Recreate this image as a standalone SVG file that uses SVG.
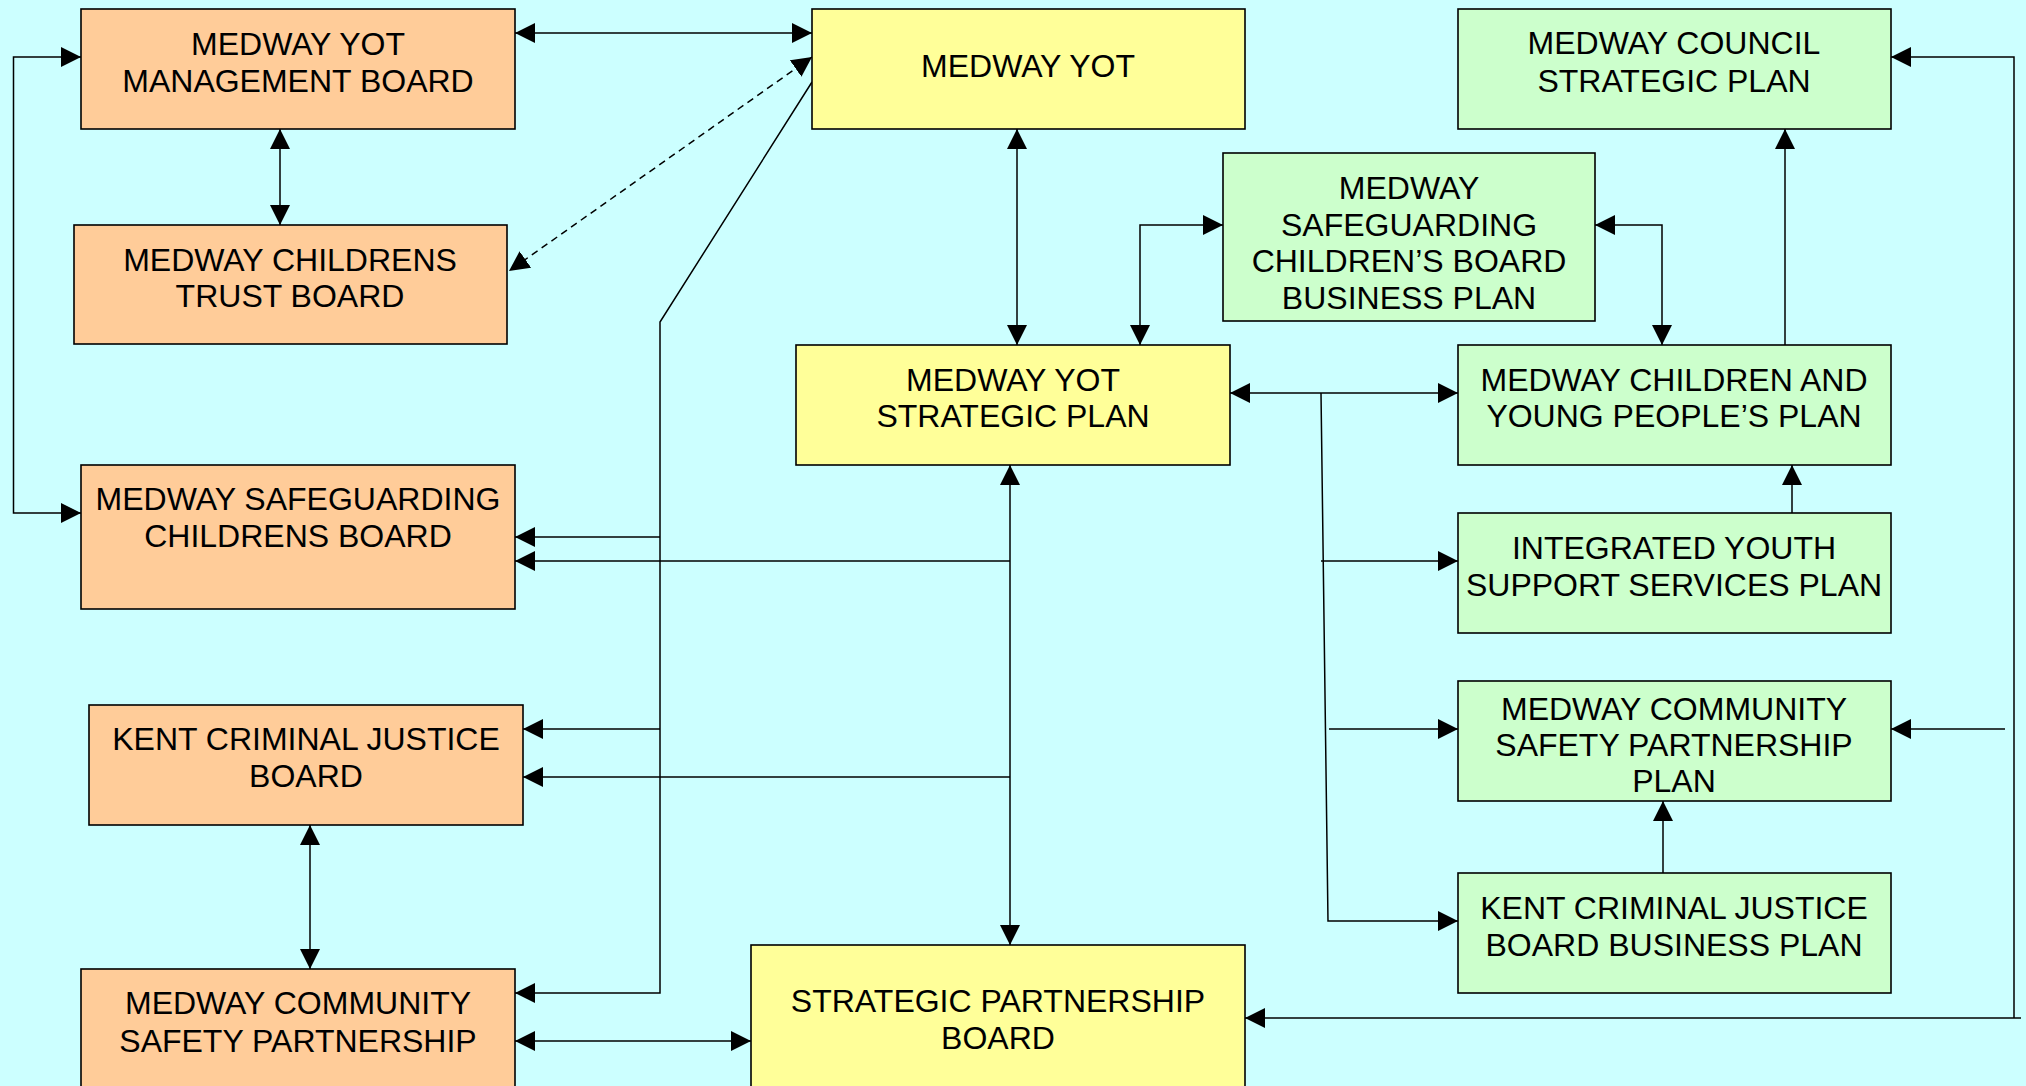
<svg xmlns="http://www.w3.org/2000/svg" width="2026" height="1086" viewBox="0 0 2026 1086">
<style>
.box{stroke:#000;stroke-width:1.6}
.or{fill:#FFCC99}.ye{fill:#FFFF99}.gr{fill:#CCFFCC}
text{font-family:"Liberation Sans",Arial,sans-serif;font-size:32px;fill:#000;text-anchor:middle}
.c{fill:none;stroke:#000;stroke-width:1.5}
.d{stroke-dasharray:7,5}
</style>
<defs>
<marker id="ah" markerUnits="userSpaceOnUse" markerWidth="20" markerHeight="20" refX="20" refY="10" orient="auto-start-reverse" viewBox="0 0 20 20">
<path d="M0,0 L20,10 L0,20 z" fill="#000"/>
</marker>
</defs>
<rect width="2026" height="1086" fill="#CCFFFF"/>
<g id="connectors">
<path class="c" d="M515,33 H812" marker-start="url(#ah)" marker-end="url(#ah)"/>
<path class="c" d="M280,129 V225" marker-start="url(#ah)" marker-end="url(#ah)"/>
<path class="c" d="M81,57 H13.5 V513 H81" marker-start="url(#ah)" marker-end="url(#ah)"/>
<path class="c d" d="M812,57 L509,271" marker-start="url(#ah)" marker-end="url(#ah)"/>
<path class="c" d="M812,82 L660,322 V993 H515" marker-end="url(#ah)"/>
<path class="c" d="M660,537 H515" marker-end="url(#ah)"/>
<path class="c" d="M660,729 H523" marker-end="url(#ah)"/>
<path class="c" d="M1017,129 V345" marker-start="url(#ah)" marker-end="url(#ah)"/>
<path class="c" d="M1223,225 H1140 V345" marker-start="url(#ah)" marker-end="url(#ah)"/>
<path class="c" d="M1595,225 H1662 V345" marker-start="url(#ah)" marker-end="url(#ah)"/>
<path class="c" d="M1785,345 V129" marker-end="url(#ah)"/>
<path class="c" d="M2014,1018 V57 H1891" marker-end="url(#ah)"/>
<path class="c" d="M2021,1018 H1245" marker-end="url(#ah)"/>
<path class="c" d="M2005,729 H1891" marker-end="url(#ah)"/>
<path class="c" d="M1230,393 H1458" marker-start="url(#ah)" marker-end="url(#ah)"/>
<path class="c" d="M1321,393 L1328,921 H1458" marker-end="url(#ah)"/>
<path class="c" d="M1321,561 H1458" marker-end="url(#ah)"/>
<path class="c" d="M1329,729 H1458" marker-end="url(#ah)"/>
<path class="c" d="M1792,513 V465" marker-end="url(#ah)"/>
<path class="c" d="M1663,873 V801" marker-end="url(#ah)"/>
<path class="c" d="M1010,465 V945" marker-start="url(#ah)" marker-end="url(#ah)"/>
<path class="c" d="M1010,561 H515" marker-end="url(#ah)"/>
<path class="c" d="M1010,777 H523" marker-end="url(#ah)"/>
<path class="c" d="M310,825 V969" marker-start="url(#ah)" marker-end="url(#ah)"/>
<path class="c" d="M515,1041 H751" marker-start="url(#ah)" marker-end="url(#ah)"/>
</g>
<g id="mgmt"><rect class="box or" x="81" y="9" width="434" height="120"/><text x="298" y="55">MEDWAY YOT</text><text x="298" y="92">MANAGEMENT BOARD</text></g>
<g id="trust"><rect class="box or" x="74" y="225" width="433" height="119"/><text x="290" y="271">MEDWAY CHILDRENS</text><text x="290" y="307">TRUST BOARD</text></g>
<g id="yot"><rect class="box ye" x="812" y="9" width="433" height="120"/><text x="1028" y="77">MEDWAY YOT</text></g>
<g id="council"><rect class="box gr" x="1458" y="9" width="433" height="120"/><text x="1674" y="54">MEDWAY COUNCIL</text><text x="1674" y="92">STRATEGIC PLAN</text></g>
<g id="sgbp"><rect class="box gr" x="1223" y="153" width="372" height="168"/><text x="1409" y="199">MEDWAY</text><text x="1409" y="236">SAFEGUARDING</text><text x="1409" y="272">CHILDREN’S BOARD</text><text x="1409" y="309">BUSINESS PLAN</text></g>
<g id="ysp"><rect class="box ye" x="796" y="345" width="434" height="120"/><text x="1013" y="391">MEDWAY YOT</text><text x="1013" y="427">STRATEGIC PLAN</text></g>
<g id="cyp"><rect class="box gr" x="1458" y="345" width="433" height="120"/><text x="1674" y="391">MEDWAY CHILDREN AND</text><text x="1674" y="427">YOUNG PEOPLE’S PLAN</text></g>
<g id="iy"><rect class="box gr" x="1458" y="513" width="433" height="120"/><text x="1674" y="559">INTEGRATED YOUTH</text><text x="1674" y="596">SUPPORT SERVICES PLAN</text></g>
<g id="mcspp"><rect class="box gr" x="1458" y="681" width="433" height="120"/><text x="1674" y="720">MEDWAY COMMUNITY</text><text x="1674" y="756">SAFETY PARTNERSHIP</text><text x="1674" y="792">PLAN</text></g>
<g id="kcjbp"><rect class="box gr" x="1458" y="873" width="433" height="120"/><text x="1674" y="919">KENT CRIMINAL JUSTICE</text><text x="1674" y="956">BOARD BUSINESS PLAN</text></g>
<g id="spb"><rect class="box ye" x="751" y="945" width="494" height="160"/><text x="998" y="1012">STRATEGIC PARTNERSHIP</text><text x="998" y="1049">BOARD</text></g>
<g id="mscb"><rect class="box or" x="81" y="465" width="434" height="144"/><text x="298" y="510">MEDWAY SAFEGUARDING</text><text x="298" y="547">CHILDRENS BOARD</text></g>
<g id="kcj"><rect class="box or" x="89" y="705" width="434" height="120"/><text x="306" y="750">KENT CRIMINAL JUSTICE</text><text x="306" y="787">BOARD</text></g>
<g id="mcsp"><rect class="box or" x="81" y="969" width="434" height="140"/><text x="298" y="1014">MEDWAY COMMUNITY</text><text x="298" y="1052">SAFETY PARTNERSHIP</text></g>
</svg>
